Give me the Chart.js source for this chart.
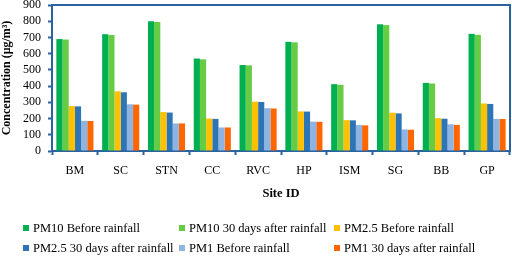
<!DOCTYPE html>
<html>
<head>
<meta charset="utf-8">
<script src="https://cdn.jsdelivr.net/npm/chart.js@4/dist/chart.umd.min.js"></script>
<style>
  html, body { margin: 0; padding: 0; background: #fff; }
  #wrap { width: 512px; height: 256px; }
</style>
</head>
<body>
<div id="wrap"><canvas id="chart" width="512" height="256"></canvas></div>
<script>
// Datos
const sites = ["BM", "SC", "STN", "CC", "RVC", "HP", "ISM", "SG", "BB", "GP"];
const pm10Before = [690, 720, 800, 570, 530, 673, 412, 781, 420, 722];
const pm10After = [687, 715, 795, 565, 528, 670, 408, 776, 416, 716];
const pm25Before = [277, 368, 240, 200, 304, 244, 190, 236, 202, 293];
const pm25After = [275, 362, 237, 198, 302, 243, 189, 232, 199, 290];
const pm1Before = [186, 288, 170, 145, 264, 181, 160, 133, 165, 198];
const pm1After = [185, 286, 170, 145, 262, 180, 158, 131, 161, 197];
const yTicks = [0, 100, 200, 300, 400, 500, 600, 700, 800, 900];

const seriesNames = [
    "PM10 Before rainfall",
    "PM10 30 days after rainfall",
    "PM2.5 Before rainfall",
    "PM2.5 30 days after rainfall",
    "PM1 Before rainfall",
    "PM1 30 days after rainfall",
];
const seriesColors = ["#00B050", "#66CC44", "#FFC000", "#2E75B6", "#8EB4E3", "#FF6600"];
const seriesData = [pm10Before, pm10After, pm25Before, pm25After, pm1Before, pm1After];

const axisColor = "#2B63A0";
const serif = "'Liberation Serif', 'Times New Roman', serif";

// marco superior y derecho del area del grafico
const framePlugin = {
    id: "frame",
    afterDatasetsDraw(chart) {
        const { ctx, chartArea } = chart;
        ctx.save();
        ctx.strokeStyle = axisColor;
        ctx.lineWidth = 2;
        ctx.beginPath();
        ctx.moveTo(chartArea.left, chartArea.top);
        ctx.lineTo(chartArea.right, chartArea.top);
        ctx.lineTo(chartArea.right, chartArea.bottom);
        ctx.stroke();
        ctx.restore();
    },
};

// leyenda en cuadricula de 3 columnas
const gridLegend = {
    id: "gridLegend",
    afterDraw(chart) {
        const { ctx } = chart;
        const colX = [23, 179, 334];
        const rowY = [228, 248];
        ctx.save();
        ctx.font = "12.5px " + serif;
        ctx.textBaseline = "middle";
        chart.data.datasets.forEach((ds, i) => {
            const x = colX[i % 3];
            const y = rowY[Math.floor(i / 3)];
            ctx.fillStyle = ds.backgroundColor;
            ctx.fillRect(x, y - 3, 6, 6);
            ctx.fillStyle = "#000";
            ctx.fillText(ds.label, x + 10, y + 0.5);
        });
        ctx.restore();
    },
};

new Chart(document.getElementById("chart"), {
    type: "bar",
    data: {
        labels: sites,
        datasets: seriesNames.map((name, i) => ({
            label: name,
            data: seriesData[i],
            backgroundColor: seriesColors[i],
            borderWidth: 0,
            categoryPercentage: 0.81,
            barPercentage: 1.0,
        })),
    },
    options: {
        responsive: false,
        animation: false,
        events: [],
        layout: { padding: { top: 5, right: 2, bottom: 0, left: 0 } },
        plugins: {
            legend: { display: false },
            tooltip: { enabled: false },
        },
        scales: {
            x: {
                grid: {
                    display: true,
                    drawOnChartArea: false,
                    drawTicks: true,
                    tickLength: 4,
                    tickWidth: 2,
                    color: axisColor,
                    offset: true,
                },
                border: { color: axisColor, width: 2 },
                ticks: { color: "#000", font: { family: serif, size: 12 }, padding: 9, maxRotation: 0 },
                title: {
                    display: true,
                    text: "Site ID",
                    color: "#000",
                    font: { family: serif, size: 12.5, weight: "bold" },
                    padding: { top: 0, bottom: 55 },
                },
                afterFit(scale) {
                    scale.height = 105;
                },
            },
            y: {
                min: 0,
                max: 900,
                afterBuildTicks(scale) {
                    scale.ticks = yTicks.map((v) => ({ value: v }));
                },
                grid: {
                    display: true,
                    drawOnChartArea: false,
                    drawTicks: true,
                    tickLength: 4,
                    tickWidth: 2,
                    color: axisColor,
                },
                border: { color: axisColor, width: 2 },
                ticks: { color: "#000", font: { family: serif, size: 12 }, padding: 7, autoSkip: false },
                title: {
                    display: true,
                    text: "Concentration (μg/m³)",
                    color: "#000",
                    font: { family: serif, size: 12, weight: "bold" },
                    padding: 0,
                },
                afterFit(scale) {
                    scale.width = 52;
                    scale.paddingTop = 0;
                    scale.paddingBottom = 0;
                },
            },
        },
    },
    plugins: [framePlugin, gridLegend],
});
</script>
</body>
</html>
